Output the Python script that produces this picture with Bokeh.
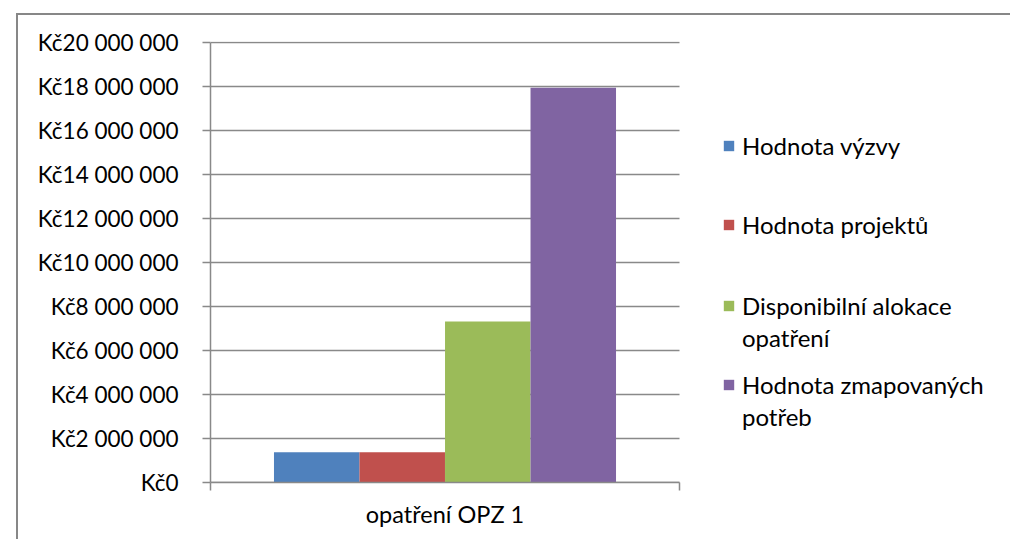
from bokeh.plotting import figure
from bokeh.models import (ColumnDataSource, Range1d, FixedTicker, Legend, LegendItem)
from bokeh.transform import dodge
from bokeh.embed import file_html
from bokeh.resources import INLINE

# ---- data ----
categories = ["opatření OPZ 1"]
series_names = ["Hodnota výzvy", "Hodnota projektů",
                "Disponibilní alokace\nopatření", "Hodnota zmapovaných\npotřeb"]
hodnota_vyzvy = [1370000]
hodnota_projektu = [1370000]
disponibilni_alokace = [7320000]
hodnota_potreb = [17950000]
y_ticks = [0, 2000000, 4000000, 6000000, 8000000, 10000000,
           12000000, 14000000, 16000000, 18000000, 20000000]
y_tick_labels = ["Kč0", "Kč2 000 000", "Kč4 000 000", "Kč6 000 000", "Kč8 000 000",
                 "Kč10 000 000", "Kč12 000 000", "Kč14 000 000", "Kč16 000 000",
                 "Kč18 000 000", "Kč20 000 000"]

colors = ["#4F81BD", "#C0504D", "#9BBB59", "#8064A2"]
FONT = "Lato"
GRID = "#898989"
BORDER = "#878787"

# layout: plot area 469 px per category, frame extended to the right for the legend
CAT_PX = 469
FRAME_W = 790
n = len(categories)
x_pos = [i + 0.5 for i in range(n)]
source = ColumnDataSource(dict(
    x=x_pos, cat=categories,
    v0=hodnota_vyzvy, v1=hodnota_projektu, v2=disponibilni_alokace, v3=hodnota_potreb,
))
grid_src = ColumnDataSource(dict(y=y_ticks, x0=[0] * len(y_ticks), x1=[n] * len(y_ticks)))

p = figure(
    output_backend="svg", toolbar_location=None,
    frame_width=FRAME_W, frame_height=441,
    min_border_left=192, min_border_right=10, min_border_top=26, min_border_bottom=57,
    x_range=Range1d(0, n * FRAME_W / CAT_PX), y_range=Range1d(0, 20050000),
    margin=(13, 0, 0, 16),
)
# chart-area border (top and left only; the rest lies outside the picture)
p.styles = {"border-left": f"2px solid {BORDER}", "border-top": f"2px solid {BORDER}"}
p.outline_line_color = None
p.background_fill_color = "white"
p.border_fill_color = "white"
p.xgrid.grid_line_color = None
p.ygrid.grid_line_color = None

# horizontal gridlines over the category area only
p.segment(x0="x0", x1="x1", y0="y", y1="y", source=grid_src,
          line_color=GRID, line_width=1.5)

bar_w = 0.1823
offsets = [-0.2735, -0.0912, 0.0912, 0.2735]
renderers = []
for i, col in enumerate(["v0", "v1", "v2", "v3"]):
    r = p.vbar(x=dodge("x", offsets[i], range=p.x_range), top=col, width=bar_w,
               bottom=0, source=source, fill_color=colors[i], line_color=None)
    renderers.append(r)

# y axis
p.yaxis.ticker = FixedTicker(ticks=y_ticks)
p.yaxis.major_label_overrides = {t: l for t, l in zip(y_ticks, y_tick_labels)}
p.yaxis.major_label_text_font = FONT
p.yaxis.major_label_text_font_size = "22.5px"
p.yaxis.major_label_text_color = "black"
p.yaxis.axis_line_color = GRID
p.yaxis.axis_line_width = 1.5
p.yaxis.major_tick_line_color = GRID
p.yaxis.major_tick_line_width = 1.5
p.yaxis.major_tick_out = 8
p.yaxis.major_tick_in = 0
p.yaxis.minor_tick_line_color = None
p.yaxis.major_label_standoff = 24
p.yaxis.bounds = (0, 20000000)

# x axis
p.xaxis.ticker = FixedTicker(ticks=x_pos, minor_ticks=list(range(n + 1)))
p.xaxis.major_label_overrides = {x: c for x, c in zip(x_pos, categories)}
p.xaxis.major_label_text_font = FONT
p.xaxis.major_label_text_font_size = "23.5px"
p.xaxis.major_label_text_color = "black"
p.xaxis.axis_line_color = GRID
p.xaxis.axis_line_width = 1.5
p.xaxis.major_tick_line_color = None
p.xaxis.major_tick_out = 8
p.xaxis.major_tick_in = 0
p.xaxis.minor_tick_line_color = GRID
p.xaxis.minor_tick_line_width = 1.5
p.xaxis.minor_tick_out = 8
p.xaxis.minor_tick_in = 0
p.xaxis.major_label_standoff = 9
p.xaxis.bounds = (0, n)

# legend: one Legend per text line (first line carries the colour square)
first_line_y = [317, 237.5, 156.5, 77.5]   # offsets from frame bottom (layout only)
line_gap = 31.5
for name, r, vy in zip(series_names, renderers, first_line_y):
    for k, line in enumerate(name.split("\n")):
        first = (k == 0)
        lg = Legend(
            items=[LegendItem(label=line, renderers=[r])],
            location=(CAT_PX * n + 43, vy - k * line_gap),
            glyph_width=13 if first else 0, glyph_height=13,
            label_standoff=7 if first else 20,
            label_height=40, padding=0, margin=0,
            border_line_color=None, background_fill_alpha=0,
            label_text_font=FONT, label_text_font_size="24px", label_text_color="black",
        )
        p.add_layout(lg, "center")

open("out.html", "w").write(file_html(p, INLINE))
